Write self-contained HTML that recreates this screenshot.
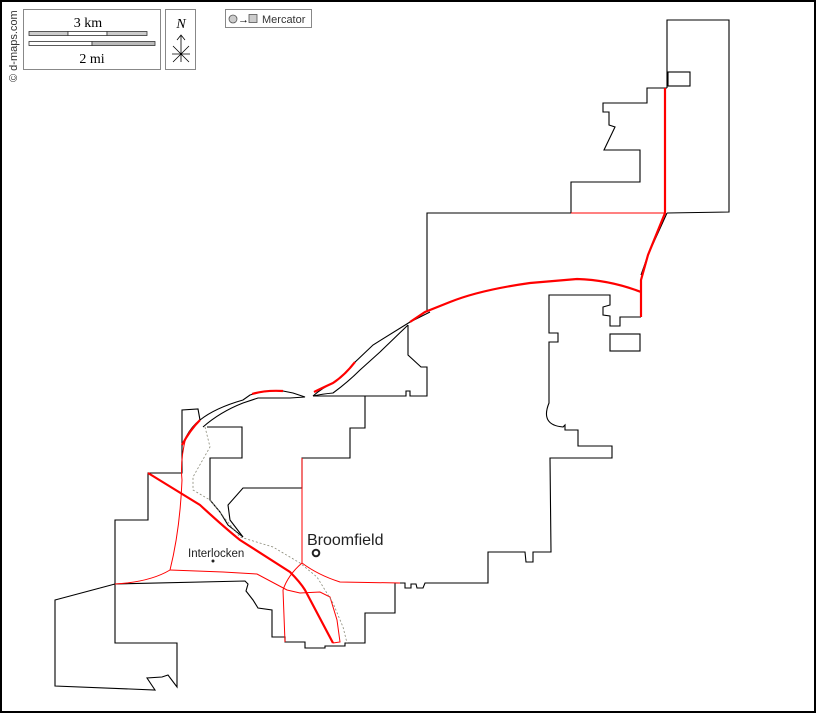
<!DOCTYPE html>
<html><head><style>
html,body{margin:0;padding:0;background:#fff}
svg{display:block}
</style></head><body>
<svg width="816" height="713" viewBox="0 0 816 713" xmlns="http://www.w3.org/2000/svg" font-family="Liberation Sans, sans-serif">
<rect x="1" y="1" width="814" height="711" fill="#fff" stroke="#000" stroke-width="2"/>
<text transform="translate(17,82) rotate(-90)" font-size="11" fill="#333">© d-maps.com</text>
<rect x="23.5" y="9.5" width="137" height="60" fill="#fff" stroke="#888"/>
<text x="88" y="27" style="font-family:'Liberation Serif',serif" font-size="14" text-anchor="middle">3 km</text>
<rect x="29" y="31.5" width="39" height="4" fill="#ccc" stroke="#333" stroke-width="0.8"/>
<rect x="68" y="31.5" width="39" height="4" fill="#fff" stroke="#333" stroke-width="0.8"/>
<rect x="107" y="31.5" width="40" height="4" fill="#ccc" stroke="#333" stroke-width="0.8"/>
<rect x="29" y="41.5" width="63" height="4" fill="#fff" stroke="#333" stroke-width="0.8"/>
<rect x="92" y="41.5" width="63" height="4" fill="#bbb" stroke="#333" stroke-width="0.8"/>
<text x="92" y="63" style="font-family:'Liberation Serif',serif" font-size="14" text-anchor="middle">2 mi</text>
<rect x="165.5" y="9.5" width="30" height="60" fill="#fff" stroke="#888"/>
<text x="181" y="28" style="font-family:'Liberation Serif',serif;font-style:italic" font-size="14" text-anchor="middle">N</text>
<path d="M181,36 V62 M177,40 L181,35 L185,40 M173,46 L189,62 M189,46 L173,62 M172,54 H190" stroke="#000" stroke-width="0.8" fill="none"/>
<rect x="225.5" y="9.5" width="86" height="18" fill="#fff" stroke="#888"/>
<circle cx="233" cy="19" r="4" fill="#ccc" stroke="#555" stroke-width="0.8"/>
<text x="238" y="23" font-size="11">→</text>
<rect x="249" y="14.5" width="8" height="8" fill="#ccc" stroke="#555" stroke-width="0.8"/>
<text x="262" y="23" font-size="11" fill="#333">Mercator</text>

<g fill="none" stroke="#000" stroke-width="1.1">
<path d="M667,88 L667,20 L729,20 L729,212 L667,213"/>
<rect x="668" y="72" width="22" height="14"/>
<path d="M667,88 L647,88 L647,103 L603,103 L603,112 L609,112 L609,125 L615,127 L604,150 L640,150 L640,182 L571,182 L571,213 L427,213 L427,312"/>
<path d="M667,213 L648,255 L641,275"/>
<path d="M641,317 L620,317 L620,326 L610,326 L610,316 L603,315 L603,307 L610,305 L610,295 L549,295 L549,333 L558,333 L558,342 L549,342 L549,403 Q540,425 563,427 L565,425 L565,430 L578,430 L578,446 L612,446 L612,458 L550,458 L551,552 L533,552 L533,562 L526,562 L525,552 L488,552 L488,583 L425,583 L423,588 L417,588 L416,584 L411,584 L411,588 L405,588 L405,583 L395,583 L395,613 L365,613 L365,643 L345,643 L345,646 L325,646 L325,648 L305,648 L305,642 L285,642 L285,637 L272,637 L272,610 L258,608 L253,600 L246,591 L248,584 L245,581 L115,584"/>
<rect x="610" y="334" width="30" height="17"/>
<path d="M100,588 L115,584 L115,520 L148,520 L148,473 L182,473 L182,410 L198,409 L200,420"/>
<path d="M115,584 L115,643 L177,643 L177,687 L168,675 L162,677 L147,678 L155,690 L55,686 L55,600 L100,588"/>
<path d="M186,437 Q192,426 200,420 Q215,408 243,400 L250,395 Q265,390 283,391 L293,393 L305,397 L290,398 L258,398 L243,403 Q220,412 203,427"/>
<path d="M313,396 Q322,388 333,383 Q345,375 352,365 L373,345 L410,322 L430,312"/>
<path d="M313,396 Q322,394 333,393 Q348,382 360,370 L380,352 L408,325"/>
<path d="M313,396 L406,396 L406,391 L410,391 L410,396 L427,396 L427,367 L421,367 L408,355 L408,325"/>
<path d="M365,396 L365,428 L350,428 L350,458 L302,458 L302,488 L243,488 L228,505 L230,520 L243,537"/>
<path d="M207,427 L242,427 L242,458 L210,458 L210,500 L220,512 L228,525 L243,537"/>
</g>

<g fill="none" stroke="#f00" stroke-width="1">
<path d="M571,213 L665,213"/>
<path d="M186,437 Q180,460 182,480 Q180,530 170,570 Q150,582 115,584"/>
<path d="M170,570 L223,572 L257,574 L287,590 L300,593 L320,592 L330,597 L337,620 L340,642 L333,643"/>
<path d="M302,458 L302,563 Q288,575 283,590 L285,642"/>
<path d="M302,563 Q318,575 340,582 L400,583"/>
</g>
<g fill="none" stroke="#f00" stroke-width="2.2">
<path d="M665,88 L665,213 L648,255 L641,280 L641,317"/>
<path d="M641,292 Q610,280 577,279 L530,283 Q480,290 450,302 L425,312 L410,322"/>
<path d="M355,362 Q345,375 333,383 Q322,388 314,392"/>
<path d="M252,394 Q265,390 283,391"/>
<path d="M182,445 Q190,430 200,420"/>
<path d="M148,473 L200,505 Q225,528 240,540 L290,572 Q300,582 305,590 L333,643"/>
</g>
<path d="M205,427 L210,447 L193,477 L193,490 L210,500 L240,537 L273,547 L300,563 L317,577 L333,603 L343,627 L347,643" fill="none" stroke="#887" stroke-width="0.8" stroke-dasharray="2,2"/>

<circle cx="316" cy="553" r="3.3" fill="none" stroke="#222" stroke-width="2"/>
<text x="307" y="545" font-size="16" fill="#222">Broomfield</text>
<circle cx="213" cy="561" r="1.5" fill="#222"/>
<text x="188" y="557" font-size="11.5" fill="#222">Interlocken</text>
</svg>
</body></html>
